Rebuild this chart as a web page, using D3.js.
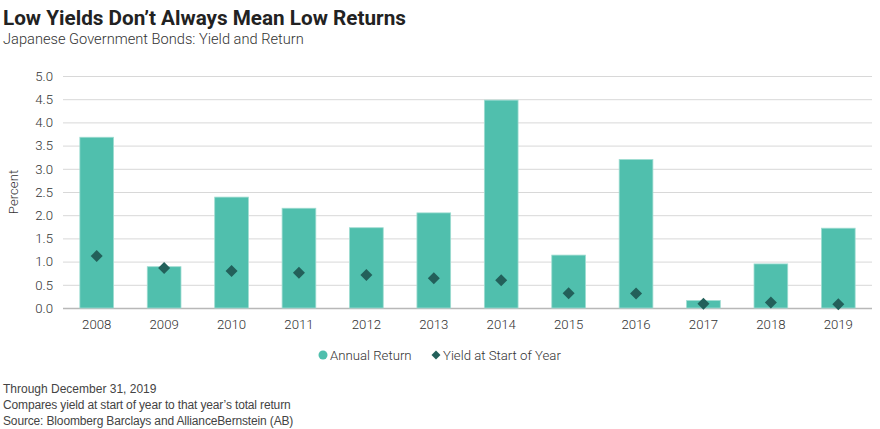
<!DOCTYPE html>
<html><head><meta charset="utf-8">
<script src="https://cdn.jsdelivr.net/npm/d3@7"></script>
<style>
body{margin:0;background:#fff;}
svg{display:block;}
</style></head>
<body>
<svg id="c" width="880" height="429"></svg>
<script>
const years = ["2008","2009","2010","2011","2012","2013","2014","2015","2016","2017","2018","2019"];
const annualReturn = [3.68,0.89,2.39,2.15,1.73,2.05,4.48,1.14,3.20,0.16,0.95,1.72];
const yieldStart = [1.12,0.86,0.80,0.76,0.71,0.64,0.60,0.32,0.31,0.09,0.12,0.08];
const yTicks = [0,0.5,1,1.5,2,2.5,3,3.5,4,4.5,5];
const footnotes = ["Through December 31, 2019","Compares yield at start of year to that year’s total return","Source: Bloomberg Barclays and AllianceBernstein (AB)"];

(function(){
const svg = d3.select("#c");
const barColor = "#50bfad", dotColor = "#23605a";
const pL = 63, pR = 872, pT = 76, pB = 308;
const fs = 13.2;

const x = d3.scaleBand().domain(years).range([pL,pR]).paddingInner(0.5).paddingOuter(0.25);
const y = d3.scaleLinear().domain([0,5]).range([pB,pT]);

svg.append("text").attr("x",3).attr("y",25).attr("font-family","Roboto").attr("font-weight",700)
  .attr("font-size",20.7).attr("fill","#222").text("Low Yields Don’t Always Mean Low Returns");
svg.append("text").attr("x",3).attr("y",44).attr("font-family","Roboto").attr("font-weight",300)
  .attr("font-size",14.65).attr("fill","#333").text("Japanese Government Bonds: Yield and Return");

const yAxis = d3.axisLeft(y).tickValues(yTicks).tickSize(-(pR-pL)).tickFormat(d3.format(".1f")).tickPadding(10);
const ga = svg.append("g").attr("transform",`translate(${pL},0)`).call(yAxis);
ga.select(".domain").remove();
ga.selectAll(".tick line").attr("stroke",d=>d===0?"#b8b8b8":"#d8d8d8").attr("stroke-width",d=>d===0?1.5:1);
ga.selectAll(".tick text").attr("font-family","Roboto").attr("font-weight",300).attr("font-size",fs).attr("fill","#333");

svg.append("text").attr("transform",`translate(18,${(pT+pB)/2}) rotate(-90)`).attr("text-anchor","middle")
  .attr("font-family","Roboto").attr("font-weight",300).attr("font-size",fs).attr("fill","#333").text("Percent");

svg.append("g").selectAll("rect").data(years).join("rect")
  .attr("x",d=>x(d)).attr("width",x.bandwidth())
  .attr("y",(d,i)=>y(annualReturn[i])).attr("height",(d,i)=>y(0)-y(annualReturn[i]))
  .attr("fill",barColor).attr("stroke","#9fdcd1").attr("stroke-width",0.8);

const dsym = d3.symbol().type(d3.symbolSquare).size(72);
svg.append("g").selectAll("path").data(years).join("path")
  .attr("d",dsym)
  .attr("transform",(d,i)=>`translate(${x(d)+x.bandwidth()/2},${y(yieldStart[i])}) rotate(45)`)
  .attr("fill",dotColor);

const xa = svg.append("g").attr("transform",`translate(0,${pB})`).call(d3.axisBottom(x).tickSize(0).tickPadding(12));
xa.select(".domain").remove();
xa.selectAll("text").attr("font-family","Roboto").attr("font-weight",300).attr("font-size",fs).attr("fill","#333");

const lg = svg.append("g");
lg.append("circle").attr("cx",323).attr("cy",355).attr("r",4.5).attr("fill",barColor);
lg.append("text").attr("x",330).attr("y",359.5).attr("font-family","Roboto").attr("font-weight",300).attr("font-size",fs).attr("fill","#333").text("Annual Return");
lg.append("path").attr("d",d3.symbol().type(d3.symbolSquare).size(40)).attr("transform","translate(436,355) rotate(45)").attr("fill",dotColor);
lg.append("text").attr("x",443).attr("y",359.5).attr("font-family","Roboto").attr("font-weight",300).attr("font-size",fs).attr("fill","#333").text("Yield at Start of Year");

svg.append("g").selectAll("text").data(footnotes).join("text")
  .attr("x",3).attr("y",(d,i)=>393+i*16).attr("font-family","Liberation Sans").attr("font-size",12)
  .attr("letter-spacing",(d,i)=>i===0?0:-0.15)
  .attr("fill","#444").text(d=>d);
})();
</script>
</body></html>
